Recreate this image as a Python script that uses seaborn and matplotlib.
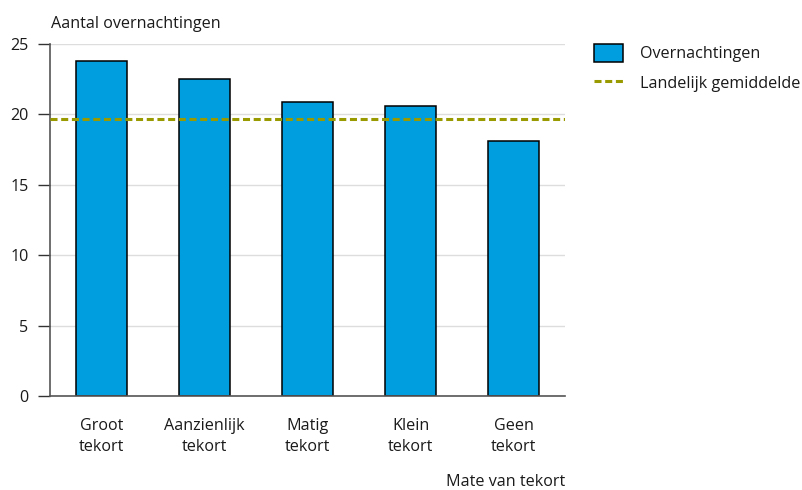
import matplotlib
matplotlib.use("Agg")
import matplotlib.pyplot as plt
import seaborn as sns
import pandas as pd
from matplotlib.patches import Patch
from matplotlib.lines import Line2D

categories = ["Groot\ntekort", "Aanzienlijk\ntekort", "Matig\ntekort", "Klein\ntekort", "Geen\ntekort"]
overnachtingen = [23.8, 22.5, 20.9, 20.6, 18.1]
landelijk_gemiddelde = 19.7
y_ticks = [0, 5, 10, 15, 20, 25]

sns.set_theme(style="white")
plt.rcParams["font.family"] = ["Open Sans", "DejaVu Sans"]

FS = 11.6
bar_color = "#009EDF"
avg_color = "#999900"
text_color = "#1a1a1a"
dash = (0, (2.3, 1.2))

df = pd.DataFrame({"categorie": categories, "waarde": overnachtingen})

fig = plt.figure(figsize=(8.03, 4.90), dpi=100)
ax = fig.add_axes([50 / 803, 1 - 396 / 490, 515 / 803, 352 / 490])

ax.yaxis.grid(True, color="#dddddd", linewidth=1)
ax.set_axisbelow(True)

sns.barplot(data=df, x="categorie", y="waarde", color=bar_color, width=0.5,
            edgecolor="black", linewidth=1.1, saturation=1, ax=ax)

ax.axhline(landelijk_gemiddelde, color=avg_color, linestyle=dash, linewidth=2.2, zorder=3)

ax.set_xlim(-0.5, 4.5)
ax.set_ylim(0, 25)
ax.set_yticks(y_ticks)
ax.set_yticklabels([str(t) for t in y_ticks], fontsize=FS, color=text_color)
ax.tick_params(axis="y", length=8.6, width=1, color="#333333", pad=7, left=True)
ax.tick_params(axis="x", length=0, pad=16, labelsize=FS, labelcolor=text_color)
for lbl in ax.get_xticklabels():
    lbl.set_linespacing(1.4)

for side in ["top", "right"]:
    ax.spines[side].set_visible(False)
ax.spines["left"].set_color("#555555")
ax.spines["left"].set_linewidth(1.2)
ax.spines["bottom"].set_color("#555555")
ax.spines["bottom"].set_linewidth(1.2)

ax.set_xlabel("")
ax.set_ylabel("")

fig.text(51 / 803, 1 - 28 / 490, "Aantal overnachtingen", fontsize=FS,
         color=text_color, ha="left", va="baseline")
fig.text(565 / 803, 1 - 486 / 490, "Mate van tekort", fontsize=FS,
         color=text_color, ha="right", va="baseline")

handles = [
    Patch(facecolor=bar_color, edgecolor="black", linewidth=1.1),
    Line2D([0], [0], color=avg_color, linestyle=dash, linewidth=2.2),
]
fig.legend(handles, ["Overnachtingen", "Landelijk gemiddelde"],
           loc="upper left", bbox_to_anchor=(594 / 803, 1 - 44 / 490),
           borderaxespad=0, borderpad=0,
           frameon=False, fontsize=FS, handlelength=1.8, handleheight=1.3,
           handletextpad=1.05, labelspacing=0.7, labelcolor=text_color)

fig.savefig("out.png", dpi=100)
